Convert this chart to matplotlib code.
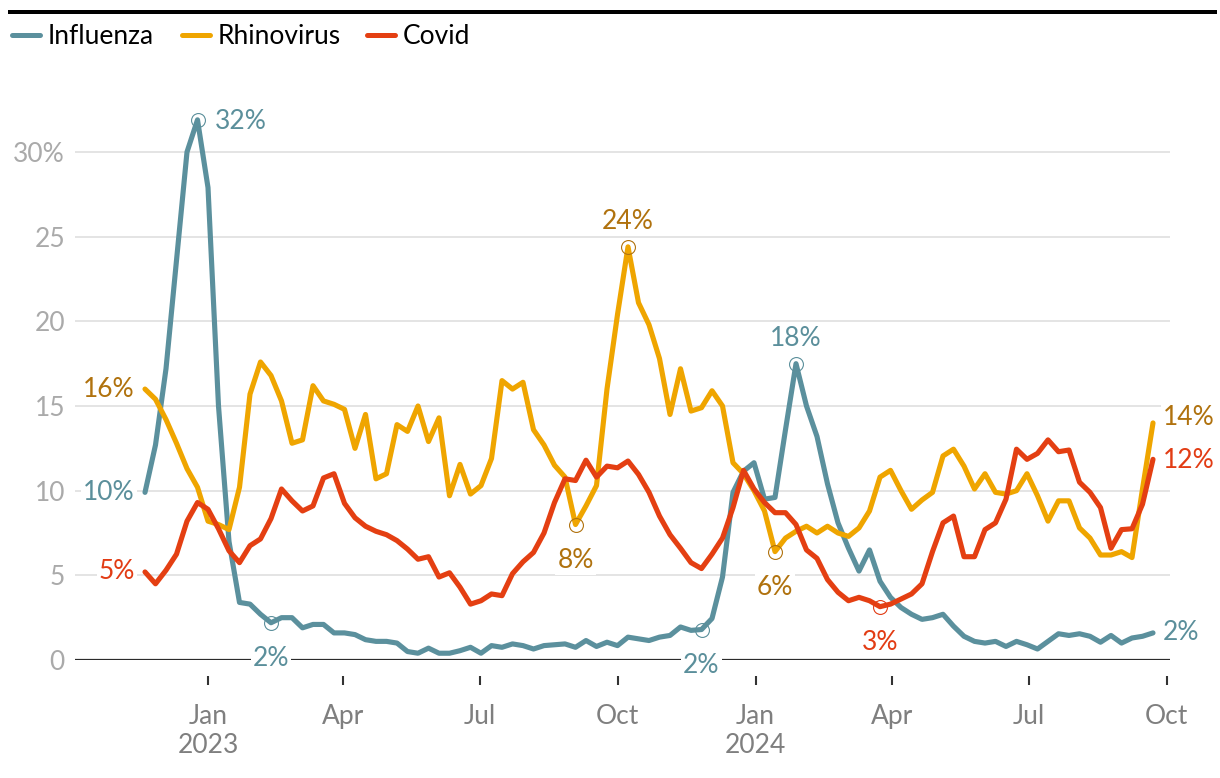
import matplotlib

matplotlib.use("Agg")
import matplotlib.dates as mdates
import matplotlib.pyplot as plt
import numpy as np
import pandas as pd
from matplotlib.lines import Line2D

plt.rcParams["font.family"] = ["Lato", "DejaVu Sans"]

# weekly positivity rates, one value per week starting 2022-11-20
first_week = "2022-11-20"

influenza = [
    9.9, 12.7, 17.2, 23.6, 30.0, 31.9, 27.9, 15.0, 7.0, 3.4,
    3.3, 2.7, 2.2, 2.5, 2.5, 1.9, 2.1, 2.1, 1.6, 1.6,
    1.5, 1.2, 1.1, 1.1, 1.0, 0.5, 0.4, 0.7, 0.4, 0.4,
    0.55, 0.75, 0.4, 0.85, 0.75, 0.95, 0.85, 0.65, 0.85, 0.9,
    0.95, 0.75, 1.15, 0.8, 1.05, 0.85, 1.35, 1.25, 1.15, 1.35,
    1.45, 1.95, 1.75, 1.8, 2.45, 4.9, 9.9, 11.15, 11.65, 9.5,
    9.6, 13.6, 17.5, 15.0, 13.2, 10.4, 8.1, 6.6, 5.25, 6.5,
    4.65, 3.7, 3.1, 2.7, 2.4, 2.5, 2.7, 2.0, 1.4, 1.1,
    1.0, 1.1, 0.8, 1.1, 0.9, 0.65, 1.1, 1.55, 1.45, 1.55,
    1.4, 1.05, 1.45, 1.0, 1.3, 1.4, 1.6,
]

rhinovirus = [
    16.0, 15.4, 14.2, 12.8, 11.3, 10.2, 8.2, 8.0, 7.7, 10.2,
    15.7, 17.6, 16.8, 15.3, 12.8, 13.0, 16.2, 15.3, 15.1, 14.8,
    12.5, 14.5, 10.7, 11.0, 13.9, 13.5, 15.0, 12.9, 14.3, 9.7,
    11.55, 9.8, 10.3, 11.9, 16.5, 16.0, 16.4, 13.6, 12.7, 11.5,
    10.8, 8.0, 9.1, 10.3, 16.0, 20.4, 24.4, 21.1, 19.8, 17.8,
    14.5, 17.2, 14.7, 14.9, 15.9, 15.0, 11.65, 11.0, 10.0, 8.8,
    6.4, 7.2, 7.6, 7.9, 7.5, 7.9, 7.5, 7.3, 7.8, 8.8,
    10.8, 11.2, 10.0, 8.9, 9.45, 9.9, 12.05, 12.45, 11.45, 10.1,
    11.0, 9.9, 9.8, 10.0, 11.0, 9.7, 8.2, 9.4, 9.4, 7.8,
    7.2, 6.2, 6.2, 6.4, 6.05, 10.1, 14.0,
]

covid = [
    5.2, 4.5, 5.3, 6.25, 8.2, 9.3, 8.9, 7.75, 6.45, 5.75,
    6.75, 7.15, 8.35, 10.1, 9.4, 8.8, 9.1, 10.75, 11.0, 9.25,
    8.4, 7.9, 7.6, 7.4, 7.05, 6.55, 5.95, 6.1, 4.9, 5.15,
    4.3, 3.3, 3.5, 3.9, 3.8, 5.1, 5.8, 6.35, 7.5, 9.3,
    10.7, 10.6, 11.8, 10.8, 11.45, 11.35, 11.75, 10.96, 9.9, 8.5,
    7.4, 6.6, 5.75, 5.4, 6.25, 7.2, 9.0, 11.2, 10.1, 9.3,
    8.7, 8.7, 8.0, 6.5, 6.0, 4.75, 4.0, 3.5, 3.7, 3.5,
    3.15, 3.3, 3.6, 3.9, 4.5, 6.4, 8.1, 8.5, 6.1, 6.1,
    7.7, 8.1, 9.5, 12.45, 11.85, 12.2, 13.0, 12.3, 12.4, 10.5,
    9.9, 9.0, 6.6, 7.7, 7.75, 9.2, 11.85,
]

series_names = ["Influenza", "Rhinovirus", "Covid"]
line_colors = ["#5b909d", "#efa500", "#e43f12"]
label_colors = ["#5b8f9b", "#b0720e", "#e23c14"]

# circled weeks: (series, week index, where the label sits)
highlights = [
    (0, 5, "right"),
    (0, 12, "below"),
    (0, 53, "below"),
    (0, 62, "above"),
    (1, 41, "below"),
    (1, 46, "above"),
    (1, 60, "below"),
    (2, 70, "below"),
]

month_ticks = ["2023-01-01", "2023-04-01", "2023-07-01", "2023-10-01",
               "2024-01-01", "2024-04-01", "2024-07-01", "2024-10-01"]
month_labels = ["Jan\n2023", "Apr", "Jul", "Oct", "Jan\n2024", "Apr", "Jul", "Oct"]
y_ticks = [0, 5, 10, 15, 20, 25, 30]
y_labels = ["0", "5", "10", "15", "20", "25", "30%"]

W, H = 1220, 778
PX = 72 / 100  # points per pixel at dpi 100
FS = 19

weeks = pd.date_range(first_week, periods=len(influenza), freq="7D")
values = [np.asarray(influenza), np.asarray(rhinovirus), np.asarray(covid)]

fig = plt.figure(figsize=(W / 100, H / 100), dpi=100)
ax = fig.add_axes([75 / W, 118 / H, 1095 / W, 560 / H])

label_box = dict(boxstyle="square,pad=0.08", facecolor="white", edgecolor="none")

for vals, lc in zip(values, line_colors):
    ax.plot(weeks, vals, color=lc, lw=3.7, solid_joinstyle="round",
            solid_capstyle="round", zorder=3)

# start / end value labels
end_offsets = [0, 5, -1]
for vals, tc, dy in zip(values, label_colors, end_offsets):
    ax.annotate(f"{vals[0]:.0f}%", (weeks[0], vals[0]), xytext=(-10 * PX, 0),
                textcoords="offset points", ha="right", va="center",
                color=tc, fontsize=FS, bbox=label_box, zorder=5)
    ax.annotate(f"{vals[-1]:.0f}%", (weeks[-1], vals[-1]),
                xytext=(10 * PX, dy * PX), textcoords="offset points",
                ha="left", va="center", color=tc, fontsize=FS,
                bbox=label_box, zorder=5)

# circled extremes
for s, i, where in highlights:
    x, y = weeks[i], values[s][i]
    ax.plot([x], [y], "o", mfc="none", mec=label_colors[s], ms=10, mew=0.8,
            zorder=4)
    if where == "right":
        off, ha = (17 * PX, -2 * PX), "left"
    elif where == "above":
        off, ha = (0, 25 * PX), "center"
    else:
        off, ha = (0, -36 * PX), "center"
    ax.annotate(f"{y:.0f}%", (x, y), xytext=off, textcoords="offset points",
                ha=ha, va="center", color=label_colors[s], fontsize=FS,
                bbox=label_box, zorder=5)

ax.axhline(0, color="#2b2b2b", lw=1.6, zorder=2)

ax.set_ylim(0, 560 / 16.933)
ax.set_xlim(pd.Timestamp("2022-10-04 08:00"), pd.Timestamp("2024-10-03 08:00"))

ax.set_yticks(y_ticks)
ax.set_yticklabels(y_labels)
ax.set_xticks([mdates.date2num(pd.Timestamp(d)) for d in month_ticks])
ax.set_xticklabels(month_labels)

for side in ["top", "right", "left"]:
    ax.spines[side].set_visible(False)
ax.spines["bottom"].set_position(("outward", 16 * PX))
ax.spines["bottom"].set_visible(False)

ax.tick_params(axis="y", length=0, pad=10 * PX, labelsize=FS, labelcolor="#aaaaaa")
ax.tick_params(axis="x", length=9 * PX, width=1.5, color="#333333", pad=14,
               labelsize=FS, labelcolor="#7f7f7f")
ax.grid(axis="y", color="#e4e4e4", lw=1.4, zorder=0)
ax.grid(axis="x", visible=False)
ax.set_axisbelow(True)

# top rule
fig.add_artist(Line2D([10 / W, 1215 / W], [1 - 12 / H, 1 - 12 / H],
                      color="black", lw=4 * PX))

# legend row
legend_x = [12, 182, 367]
for name, lc, lx in zip(series_names, line_colors, legend_x):
    fig.add_artist(Line2D([lx / W, (lx + 28) / W], [1 - 35 / H, 1 - 35 / H],
                          color=lc, lw=5 * PX, solid_capstyle="round"))
    fig.text((lx + 36) / W, 1 - 44 / H, name, fontsize=FS, color="black",
             ha="left", va="baseline")

fig.savefig("out.png", dpi=100)
